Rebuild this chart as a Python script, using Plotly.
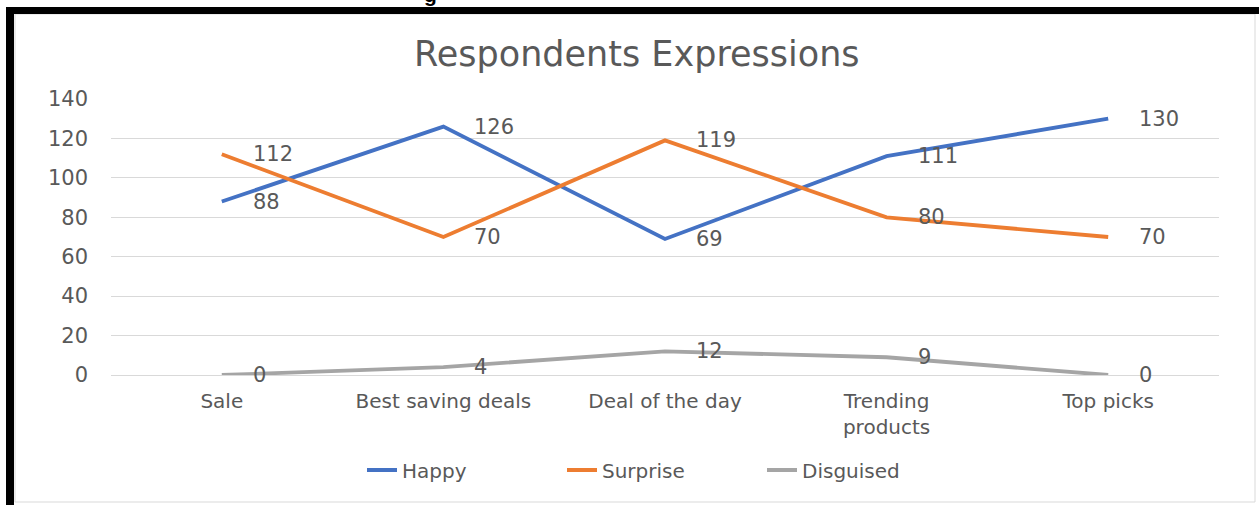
import plotly.graph_objects as go

categories = ["Sale", "Best saving deals", "Deal of the day", "Trending<br>products", "Top picks"]
happy = [88, 126, 69, 111, 130]
surprise = [112, 70, 119, 80, 70]
disguised = [0, 4, 12, 9, 0]
series_names = ["Happy", "Surprise", "Disguised"]
colors = ["#4472C4", "#ED7D31", "#A5A5A5"]
y_ticks = [0, 20, 40, 60, 80, 100, 120, 140]

W, H = 1259, 505
L, R, T, B = 111, 1219, 99, 375  # plot area in pixels

def px(x):
    return (x - L) / (R - L)

def py(y):
    return (B - y) / (B - T)

FONT = "DejaVu Sans"
GRAY = "#595959"

fig = go.Figure()
for name, vals, col in zip(series_names, [happy, surprise, disguised], colors):
    fig.add_trace(go.Scatter(
        x=categories, y=vals, name=name, mode="lines",
        line=dict(color=col, width=3.8), cliponaxis=False,
    ))

annotations = []
for vals in [happy, surprise, disguised]:
    for c, v in zip(categories, vals):
        annotations.append(dict(
            x=c, y=v, xref="x", yref="y", text=str(v), showarrow=False,
            xanchor="left", yanchor="middle", xshift=29,
            font=dict(family=FONT, size=21, color=GRAY),
        ))

annotations.append(dict(
    x=px(637), y=py(54), xref="paper", yref="paper", text="Respondents Expressions",
    showarrow=False, xanchor="center", yanchor="middle",
    font=dict(family=FONT, size=35, color=GRAY),
))
annotations.append(dict(
    x=px(430), y=py(7), xref="paper", yref="paper", text="<b>g</b>",
    showarrow=False, xanchor="center", yanchor="bottom",
    font=dict(family="Liberation Sans", size=21, color="black"), borderpad=0,
))

shapes = [
    dict(type="rect", xref="paper", yref="paper", x0=px(15), x1=px(1255), y0=py(14), y1=py(502),
         line=dict(color="#D9D9D9", width=1), fillcolor="rgba(0,0,0,0)", layer="below"),
    dict(type="rect", xref="paper", yref="paper", x0=px(6), x1=px(14), y0=py(7), y1=py(506),
         line=dict(width=0), fillcolor="black"),
    dict(type="rect", xref="paper", yref="paper", x0=px(6), x1=px(1260), y0=py(7), y1=py(14),
         line=dict(width=0), fillcolor="black"),
]

fig.update_layout(
    width=W, height=H,
    margin=dict(l=L, r=W - R, t=T, b=H - B, pad=0),
    paper_bgcolor="white", plot_bgcolor="white",
    showlegend=True,
    legend=dict(orientation="h", x=px(362), y=py(470), xanchor="left", yanchor="middle",
                font=dict(family=FONT, size=20, color=GRAY),
                entrywidth=155, entrywidthmode="pixels",
                bgcolor="rgba(0,0,0,0)"),
    annotations=annotations, shapes=shapes,
    xaxis=dict(range=[-0.5, 4.5], showgrid=False, showline=False, zeroline=False,
               tickfont=dict(family=FONT, size=20, color=GRAY), ticks="", fixedrange=True,
               ticklabelstandoff=12),
    yaxis=dict(range=[0, 140], tickvals=y_ticks, showgrid=True, gridcolor="#D9D9D9", gridwidth=1,
               zeroline=True, zerolinecolor="#D9D9D9", zerolinewidth=1, showline=False,
               tickfont=dict(family=FONT, size=21, color=GRAY), ticks="", ticklabelstandoff=22),
)

fig.write_html("out.html")
